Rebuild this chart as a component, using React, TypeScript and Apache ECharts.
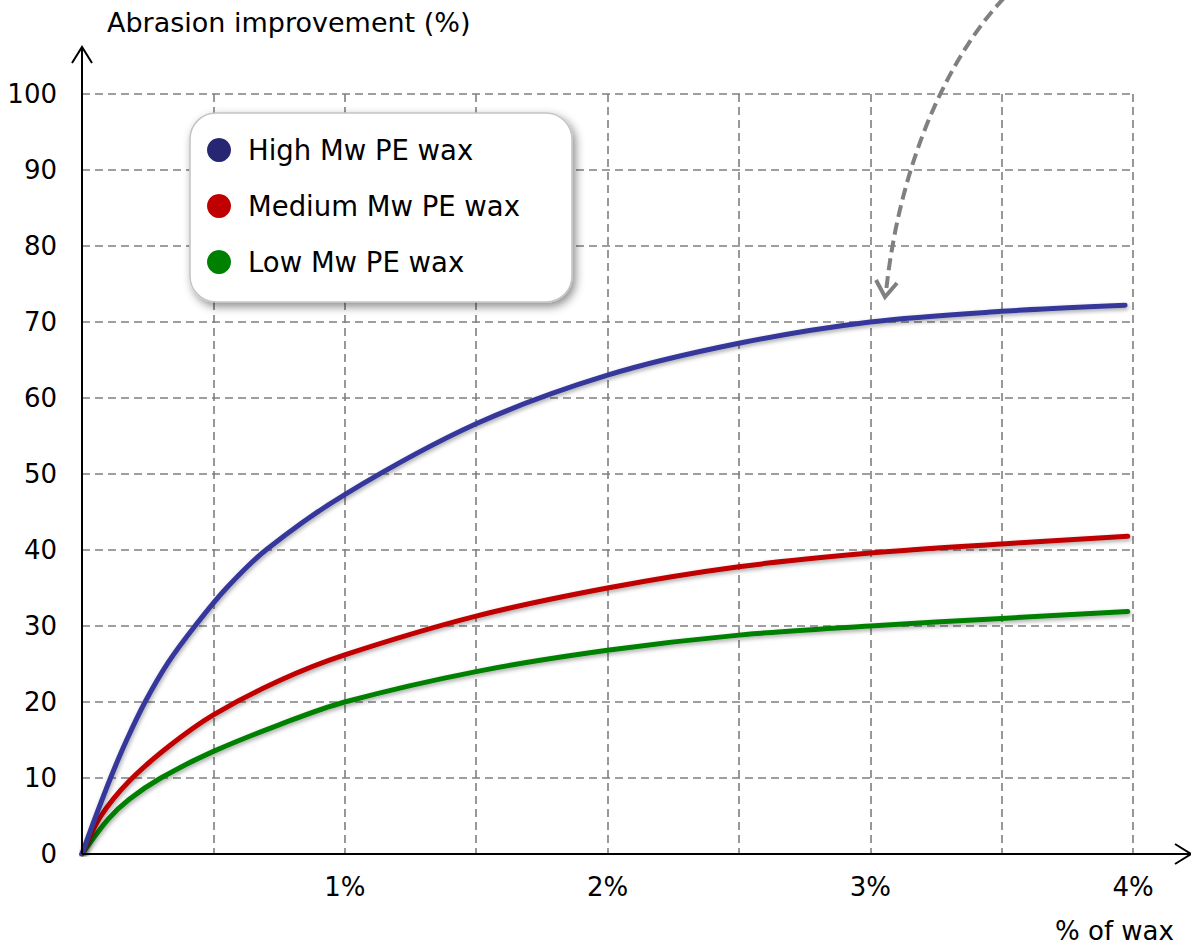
import React, { useEffect, useRef } from "react";
import * as echarts from "echarts";

// ---- Data (x = % of wax, y = abrasion improvement %) ----
const seriesNames = ["High Mw PE wax", "Medium Mw PE wax", "Low Mw PE wax"];
const lineColors = ["#35399a", "#c00000", "#008000"];
const legendColors = ["#262673", "#c00000", "#008000"];

const highMw: [number, number][] = [
  [0, 0], [0.055, 5.2], [0.112, 10.3], [0.17, 15], [0.24, 20], [0.33, 25.3],
  [0.43, 30], [0.55, 35], [0.7, 40], [1.0, 47.3], [1.5, 56.6], [2.0, 63],
  [2.5, 67.2], [3.0, 70], [3.5, 71.4], [3.97, 72.2],
];
const mediumMw: [number, number][] = [
  [0, 0], [0.072, 5], [0.18, 9.6], [0.332, 14.2], [0.5, 18.3], [0.75, 22.8],
  [1.0, 26.2], [1.5, 31.3], [2.0, 35], [2.5, 37.8], [3.0, 39.6], [3.5, 40.8],
  [3.98, 41.8],
];
const lowMw: [number, number][] = [
  [0, 0], [0.1, 4.6], [0.18, 7.2], [0.3, 10], [0.5, 13.5], [0.75, 17],
  [1.0, 20], [1.5, 24], [2.0, 26.8], [2.5, 28.8], [3.0, 30], [3.5, 31],
  [3.98, 31.9],
];
const seriesData = [highMw, mediumMw, lowMw];

const xMin = 0;
const xMax = 4;
const xStep = 0.5;
const yMin = 0;
const yMax = 100;
const yStep = 10;

const yAxisTitle = "Abrasion improvement (%)";
const xAxisTitle = "% of wax";

const FONT = "DejaVu Sans";

export default function App() {
  const ref = useRef<HTMLDivElement | null>(null);

  useEffect(() => {
    if (!ref.current) return;
    const chart = echarts.init(ref.current, undefined, { renderer: "svg" });

    const option: any = {
      animation: false,
      backgroundColor: "#ffffff",
      grid: { left: 82, right: 58, top: 94, bottom: 91, containLabel: false },
      xAxis: {
        type: "value",
        min: xMin,
        max: xMax,
        interval: xStep,
        axisLine: { show: false },
        axisTick: { show: false },
        axisLabel: {
          margin: 20,
          color: "#000",
          fontSize: 26,
          fontFamily: FONT,
          formatter: (v: number) => (v > 0 && Number.isInteger(v) ? `${v}%` : ""),
        },
        splitLine: {
          show: true,
          lineStyle: { color: "#7f7f7f", width: 1.6, type: [8, 5] },
        },
      },
      yAxis: {
        type: "value",
        min: yMin,
        max: yMax,
        interval: yStep,
        axisLine: { show: false },
        axisTick: { show: false },
        axisLabel: {
          margin: 25,
          color: "#000",
          fontSize: 26,
          fontFamily: FONT,
        },
        splitLine: {
          show: true,
          lineStyle: { color: "#7f7f7f", width: 1.6, type: [8, 5] },
        },
      },
      legend: {
        orient: "vertical",
        left: 190,
        top: 113,
        padding: [23, 52, 26, 17],
        itemWidth: 24,
        itemHeight: 24,
        itemGap: 28,
        icon: "circle",
        selectedMode: false,
        backgroundColor: "#ffffff",
        borderColor: "#c4c4c4",
        borderWidth: 1.5,
        borderRadius: 26,
        shadowBlur: 10,
        shadowColor: "rgba(0,0,0,0.45)",
        shadowOffsetX: 3,
        shadowOffsetY: 4,
        textStyle: {
          fontSize: 27.5,
          fontFamily: FONT,
          color: "#000",
          padding: [0, 0, 0, 12],
        },
        data: seriesNames.map((n, i) => ({ name: n, itemStyle: { color: legendColors[i] } })),
      },
      series: seriesNames.map((name, i) => ({
        name,
        type: "line",
        data: seriesData[i],
        showSymbol: false,
        smooth: 0.33,
        itemStyle: { color: lineColors[i] },
        lineStyle: {
          color: lineColors[i],
          width: 5,
          cap: "round",
          join: "round",
          shadowBlur: 4,
          shadowColor: "rgba(0,0,0,0.35)",
          shadowOffsetX: 1,
          shadowOffsetY: 2,
        },
        z: 5 - i,
      })),
    };

    chart.setOption(option);

    const o = chart.convertToPixel({ gridIndex: 0 }, [0, 0]) as number[];
    const ox = o[0];
    const oy = o[1];
    const axisStyle = { stroke: "#000", lineWidth: 2, fill: null };
    const arrowStyle = { stroke: "#808080", lineWidth: 4, fill: null };

    chart.setOption({
      graphic: [
        // y axis with open arrow head
        { type: "line", shape: { x1: ox, y1: oy, x2: ox, y2: 47 }, style: axisStyle, z: 10 },
        {
          type: "polyline",
          shape: { points: [[ox - 10, 63], [ox, 47], [ox + 10, 63]] },
          style: axisStyle,
          z: 10,
        },
        // x axis with open arrow head
        { type: "line", shape: { x1: ox, y1: oy, x2: 1190, y2: oy }, style: axisStyle, z: 10 },
        {
          type: "polyline",
          shape: { points: [[1175, oy - 10], [1191, oy], [1175, oy + 10]] },
          style: axisStyle,
          z: 10,
        },
        // axis titles
        {
          type: "text",
          x: 107,
          y: 22,
          style: {
            text: yAxisTitle,
            fontSize: 27,
            fontFamily: FONT,
            fill: "#000",
            align: "left",
            verticalAlign: "middle",
          },
        },
        {
          type: "text",
          x: 1055,
          y: 931,
          style: {
            text: xAxisTitle,
            fontSize: 26,
            fontFamily: FONT,
            fill: "#000",
            align: "left",
            verticalAlign: "middle",
          },
        },
        // dashed curved call-out arrow
        {
          type: "bezierCurve",
          shape: { x1: 1004, y1: -2, cpx1: 950, cpy1: 55, cpx2: 900, cpy2: 160, x2: 886, y2: 292 },
          style: { ...arrowStyle, lineDash: [12, 6] },
          z: 10,
        },
        {
          type: "polyline",
          shape: { points: [[876, 280], [885, 297], [897, 283]] },
          style: { ...arrowStyle, lineJoin: "miter" },
          z: 10,
        },
      ],
    });

    return () => {
      chart.dispose();
    };
  }, []);

  return (
    <div
      ref={ref}
      style={{ position: "fixed", left: 0, top: 0, width: 1191, height: 945, background: "#fff" }}
    />
  );
}
